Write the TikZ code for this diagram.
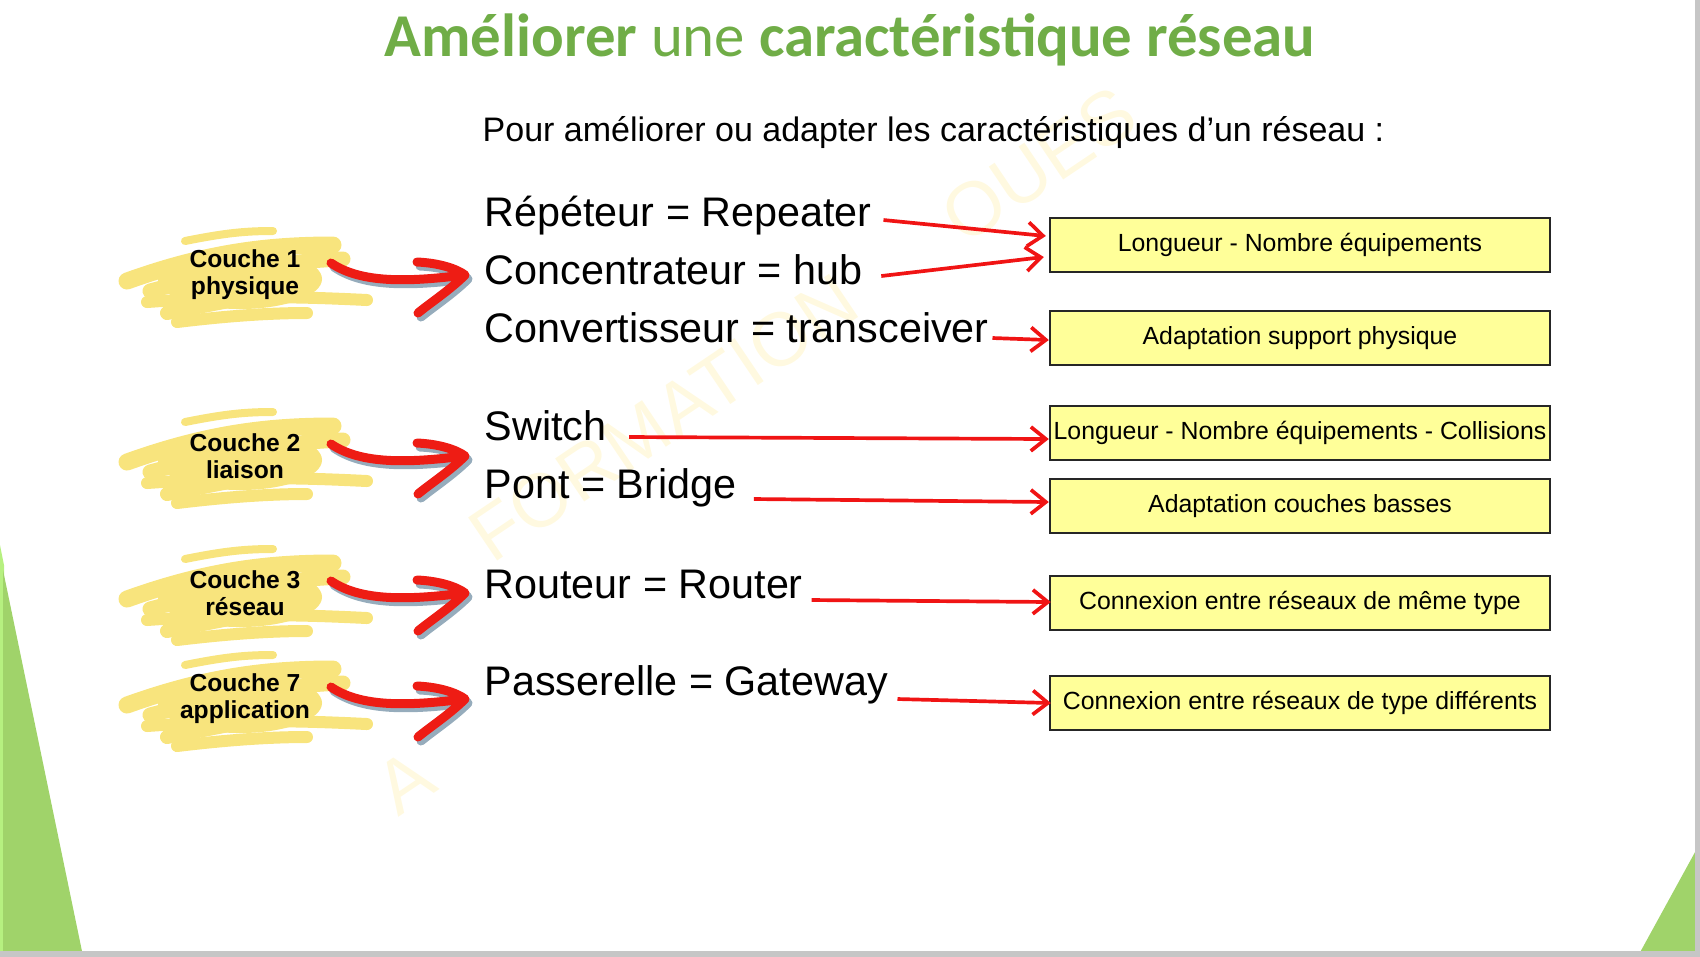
\documentclass[tikz,border=0pt]{standalone}
\usepackage{fontspec}
\setmainfont{Liberation Sans}
\newfontfamily\titlefont{Carlito}
\usepackage{xcolor}
\usetikzlibrary{arrows.meta,positioning}

\definecolor{titlegreen}{RGB}{112,173,71}
\definecolor{slidegreen}{RGB}{160,211,106}
\definecolor{slidelight}{RGB}{182,240,128}
\definecolor{brushyellow}{RGB}{248,228,125}
\definecolor{curlred}{RGB}{238,28,20}
\definecolor{curlshadow}{RGB}{150,172,188}
\definecolor{linkred}{RGB}{240,20,20}
\definecolor{boxyellow}{RGB}{255,255,153}
\definecolor{wmyellow}{RGB}{255,249,224}

% yellow brush strokes behind a layer label
\newcommand{\brushblob}[1]{%
  \begin{scope}[shift={(#1)}]
    \fill[brushyellow] (-5,4) ellipse [x radius=0.82cm, y radius=0.3cm];
    \draw[brush, line width=0.17cm] (-118,6) .. controls (-40,-22) and (20,-30) .. (88,-30);
    \draw[brush, line width=0.15cm] (-95,16) .. controls (-20,-4) and (40,-14) .. (98,-16);
    \draw[brush, line width=0.12cm] (-98,27) .. controls (0,20) and (60,22) .. (122,25);
    \draw[brush, line width=0.14cm] (-78,38) .. controls (-20,27) and (20,18) .. (58,14);
    \draw[brush, line width=0.12cm] (-68,47) .. controls (-10,40) and (30,38) .. (62,38);
    \draw[brush, line width=0.08cm] (-60,-34) .. controls (-20,-42) and (0,-44) .. (28,-44);
  \end{scope}}

% red hand drawn arrow next to a layer label
\newcommand{\curlarrow}[1]{%
  \begin{scope}[shift={(#1)}]
    \foreach \dx/\dy/\col in {3/4/curlshadow, 0/0/curlred}
      \draw[curl, draw=\col, shift={(\dx,\dy)}]
        (86,-12) .. controls (118,10) and (170,6) .. (220,0)
        (172,-13) .. controls (195,-12) and (212,-6) .. (220,0)
        .. controls (205,15) and (185,28) .. (173,38);
  \end{scope}}

\begin{document}
\begin{tikzpicture}[x=0.01cm, y=-0.01cm,
    item/.style={anchor=base west, inner sep=0pt, font=\fontsize{11.75}{14}\selectfont},
    box/.style={draw=black!85, line width=0.6pt, fill=boxyellow, minimum width=5cm,
      minimum height=0.54cm, inner sep=1pt, font=\fontsize{7.06}{8.5}\selectfont},
    layer/.style={align=center, inner sep=0pt, font=\bfseries\fontsize{7}{7.7}\selectfont},
    link/.style={draw=linkred, line width=1.05pt, -{Straight Barb[length=1.5mm,width=2.4mm]}},
    brush/.style={draw=brushyellow, line cap=round},
    curl/.style={line width=0.09cm, line cap=round, line join=round},
    watermark/.style={text=wmyellow, inner sep=0pt, anchor=base west, rotate=34,
      font=\fontsize{21.5}{23}\selectfont}]
    \useasboundingbox (0,0) rectangle (1700,956);

    % Slide decoration
    \fill[slidelight] (0,545) -- (4,565) -- (4,956) -- (0,956) -- cycle;
    \fill[slidegreen] (3,570) -- (83,956) -- (3,956) -- cycle;
    \fill[slidegreen] (1700,843) -- (1638,956) -- (1700,956) -- cycle;
    \draw[gray!45, line width=2pt] (1698,0) -- (1698,956);
    \draw[gray!45, line width=2pt] (0,954) -- (1700,954);

    % Watermark
    \node[watermark] (wmA) at (398,818) {A};
    \node[watermark] (wm) at (492,565) {FORMATION\hspace{1.6em}OUES};

    % Title
    \node[anchor=base, inner sep=0pt, text=titlegreen, font=\titlefont\fontsize{17.3}{20}\selectfont]
      (title) at (850,56) {\textbf{Améliorer} une \textbf{caractéristique réseau}};
    \node[anchor=base west, inner sep=0pt, font=\fontsize{9.67}{12}\selectfont]
      (intro) at (482,141) {Pour améliorer ou adapter les caractéristiques d’un réseau :};

    % Layers
    \brushblob{245,275}
    \node[layer] (c1) at (245,275) {Couche 1\\physique};
    \curlarrow{c1}
    \brushblob{245,456}
    \node[layer] (c2) at (245,456) {Couche 2\\liaison};
    \curlarrow{c2}
    \brushblob{245,593}
    \node[layer] (c3) at (245,593) {Couche 3\\réseau};
    \curlarrow{c3}
    \brushblob{245,699}
    \node[layer] (c7) at (245,699) {Couche 7\\application};
    \curlarrow{c7}

    % Equipments
    \node[item] (rep) at (484,226) {Répéteur = Repeater};
    \node[item] (hub) at (484,284) {Concentrateur = hub};
    \node[item] (conv) at (484,342) {Convertisseur = transceiver};
    \node[item] (switch) at (484,440) {Switch};
    \node[item] (pont) at (484,498) {Pont = Bridge};
    \node[item] (routeur) at (484,598) {Routeur = Router};
    \node[item] (gateway) at (484,695) {Passerelle = Gateway};

    % Characteristics
    \node[box] (bLong) at (1300,245) {Longueur - Nombre équipements};
    \node[box] (bSupport) at (1300,338) {Adaptation support physique};
    \node[box] (bCollis) at (1300,433) {Longueur - Nombre équipements - Collisions};
    \node[box] (bCouches) at (1300,506) {Adaptation couches basses};
    \node[box] (bMeme) at (1300,603) {Connexion entre réseaux de même type};
    \node[box] (bDiff) at (1300,703) {Connexion entre réseaux de type différents};

    % Links
    \draw[link] ([shift={(11,-6)}]rep.base east) -- ([shift={(-3,-9)}]bLong.west);
    \draw[link] ([shift={(18,-8)}]hub.base east) -- ([shift={(-5,12)}]bLong.west);
    \draw[link] ([shift={(3,-4)}]conv.base east) -- ([shift={(0,2)}]bSupport.west);
    \draw[link] ([shift={(22,-3)}]switch.base east) -- ([shift={(0,6)}]bCollis.west);
    \draw[link] ([shift={(17,1)}]pont.base east) -- ([shift={(0,-4)}]bCouches.west);
    \draw[link] ([shift={(8,2)}]routeur.base east) -- ([shift={(2,-1)}]bMeme.west);
    \draw[link] ([shift={(9,4)}]gateway.base east) -- ([shift={(2,0)}]bDiff.west);
\end{tikzpicture}
\end{document}
